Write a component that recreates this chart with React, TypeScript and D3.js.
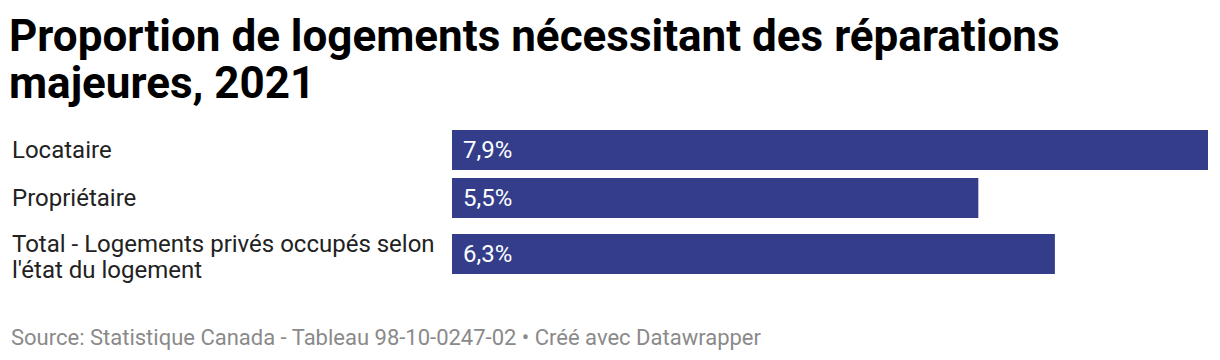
import { useEffect, useRef } from 'react'
import * as d3 from 'd3'

const CATEGORIES = [
  ['Locataire'],
  ['Propriétaire'],
  ['Total - Logements privés occupés selon', "l'état du logement"],
]
const VALUES = [7.9, 5.5, 6.3]
const TITLE_LINES = ['Proportion de logements nécessitant des réparations', 'majeures, 2021']
const SOURCE = 'Source: Statistique Canada - Tableau 98-10-0247-02 • Créé avec Datawrapper'

const fmt = (v: number) => `${v.toFixed(1).replace('.', ',')}%`

export default function App() {
  const ref = useRef<SVGSVGElement>(null)

  useEffect(() => {
    document.body.style.margin = '0'
    const svg = d3.select(ref.current)
    svg.selectAll('*').remove()

    const width = 1220
    const height = 360
    const font = 'Roboto, "Noto Sans", sans-serif'
    svg.attr('viewBox', `0 0 ${width} ${height}`).attr('width', width).attr('height', height)

    // titre
    svg.append('text')
      .attr('font-family', font)
      .attr('font-weight', 700)
      .attr('font-size', 44)
      .attr('fill', '#000')
      .selectAll('tspan')
      .data(TITLE_LINES)
      .join('tspan')
      .attr('x', 9)
      .attr('y', (_, i) => 51 + i * 47)
      .text(d => d)

    const barLeft = 452
    const barH = 40
    const gap = 8
    const lineH = 26
    const x = d3.scaleLinear().domain([0, d3.max(VALUES)!]).range([0, 1208 - barLeft])

    // hauteur de rangée selon le nombre de lignes d'étiquette
    let top = 130
    const rows = CATEGORIES.map((lines, i) => {
      const h = Math.max(barH, lines.length * lineH + 4)
      const r = { lines, value: VALUES[i], top, h, cy: top + h / 2 }
      top += h + gap
      return r
    })

    const g = svg.append('g')
    const row = g.selectAll('g.row').data(rows).join('g').attr('class', 'row')

    row.append('text')
      .attr('font-family', font)
      .attr('font-size', 24)
      .attr('fill', '#222')
      .selectAll('tspan')
      .data(d => d.lines.map((t, j) => ({
        t,
        y: d.cy + 8 + (j - (d.lines.length - 1) / 2) * lineH + (d.lines.length > 1 ? 3 : 0),
      })))
      .join('tspan')
      .attr('x', 12)
      .attr('y', d => d.y)
      .text(d => d.t)

    row.append('rect')
      .attr('x', barLeft)
      .attr('y', d => d.cy - barH / 2)
      .attr('width', d => x(d.value))
      .attr('height', barH)
      .attr('fill', '#333d8a')

    row.append('text')
      .attr('x', barLeft + 11)
      .attr('y', d => d.cy + 8)
      .attr('font-family', font)
      .attr('font-size', 24)
      .attr('fill', '#fff')
      .text(d => fmt(d.value))

    svg.append('text')
      .attr('x', 11)
      .attr('y', 345)
      .attr('font-family', font)
      .attr('font-size', 22)
      .attr('fill', '#8a8a8a')
      .text(SOURCE)
  }, [])

  return <svg ref={ref} style={{ display: 'block' }} />
}
